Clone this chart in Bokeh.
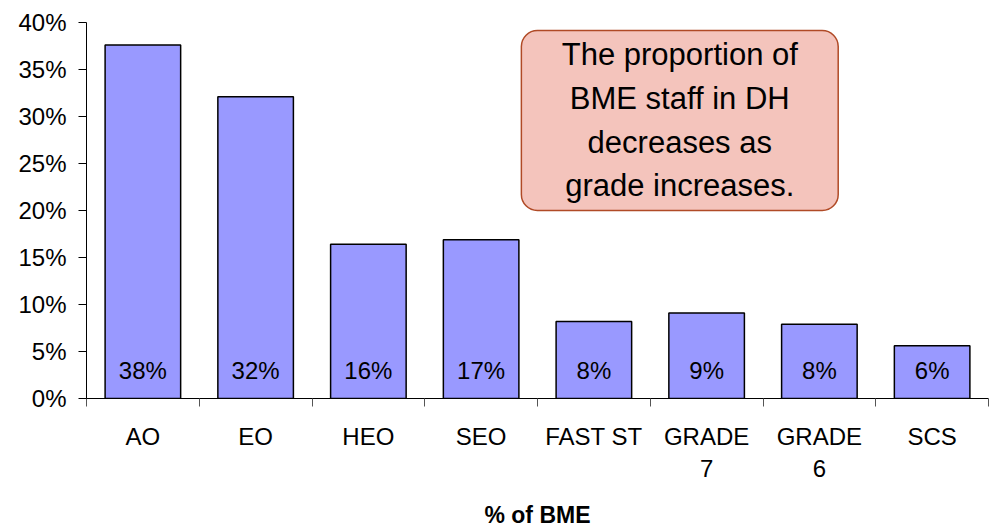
from bokeh.plotting import figure
from bokeh.models import ColumnDataSource, FixedTicker, NumeralTickFormatter, Range1d, BoxAnnotation
from bokeh.embed import file_html
from bokeh.resources import INLINE
from bokeh.core.properties import value

categories = ["AO", "EO", "HEO", "SEO", "FAST ST", "GRADE\n7", "GRADE\n6", "SCS"]
share_bme = [0.376, 0.321, 0.164, 0.169, 0.082, 0.091, 0.079, 0.056]
bar_labels = ["38%", "32%", "16%", "17%", "8%", "9%", "8%", "6%"]
y_ticks = [0.0, 0.05, 0.10, 0.15, 0.20, 0.25, 0.30, 0.35, 0.40]
callout_text = "The proportion of\nBME staff in DH\ndecreases as\ngrade increases."
x_title = "% of BME"

FONT = "Liberation Sans"
n = len(categories)
xs = [i + 0.5 for i in range(n)]

src = ColumnDataSource(dict(x=xs, top=share_bme, label=bar_labels,
                            ly=[0.03] * n))

p = figure(width=1000, height=530, output_backend="svg", toolbar_location=None,
           x_range=Range1d(0, n), y_range=Range1d(0, y_ticks[-1]),
           min_border_left=86, min_border_right=12, min_border_top=22,
           min_border_bottom=132)
p.outline_line_color = None
p.xgrid.grid_line_color = None
p.ygrid.grid_line_color = None
p.background_fill_color = "white"
p.border_fill_color = "white"

# callout box (behind glyphs, does not overlap bars)
p.add_layout(BoxAnnotation(left=3.857, right=6.667, bottom=0.20, top=0.3915,
                           fill_color="#F4C4BC", fill_alpha=1.0,
                           line_color="#B04A26", line_alpha=1.0, line_width=1.5,
                           border_radius=16, level="underlay"))

p.vbar(x="x", top="top", bottom=0, width=0.67, source=src,
       fill_color="#9999FF", line_color="black", line_width=1.5)

p.text(x="x", y="ly", text="label", source=src, text_align="center",
       text_baseline="middle", text_font=value(FONT), text_font_size="24px",
       text_color="black")

p.text(x=[5.262], y=[0.296], text=[callout_text], text_align="center",
       text_baseline="middle", text_font=value(FONT), text_font_size="31px",
       text_line_height=1.25, text_color="black")

# x axis
xa = p.xaxis[0]
xa.ticker = FixedTicker(ticks=xs, minor_ticks=list(range(n + 1)))
xa.major_label_overrides = {x: c for x, c in zip(xs, categories)}
xa.major_tick_line_color = None
xa.minor_tick_line_color = "#555555"
xa.minor_tick_out = 8
xa.minor_tick_in = 0
xa.axis_line_color = "black"
xa.major_label_text_font = FONT
xa.major_label_text_font_size = "24px"
xa.major_label_text_color = "black"
xa.major_label_standoff = 16
xa.axis_label = x_title
xa.axis_label_text_font = FONT
xa.axis_label_text_font_style = "bold"
xa.axis_label_text_font_size = "23px"
xa.axis_label_text_color = "black"
xa.axis_label_standoff = 17

# y axis
ya = p.yaxis[0]
ya.ticker = FixedTicker(ticks=y_ticks, minor_ticks=[])
ya.formatter = NumeralTickFormatter(format="0%")
ya.major_tick_out = 8
ya.major_tick_in = 0
ya.major_tick_line_color = "black"
ya.minor_tick_line_color = None
ya.axis_line_color = "black"
ya.major_label_text_font = FONT
ya.major_label_text_font_size = "24px"
ya.major_label_text_color = "black"
ya.major_label_standoff = 12

open("out.html", "w").write(file_html(p, INLINE))
